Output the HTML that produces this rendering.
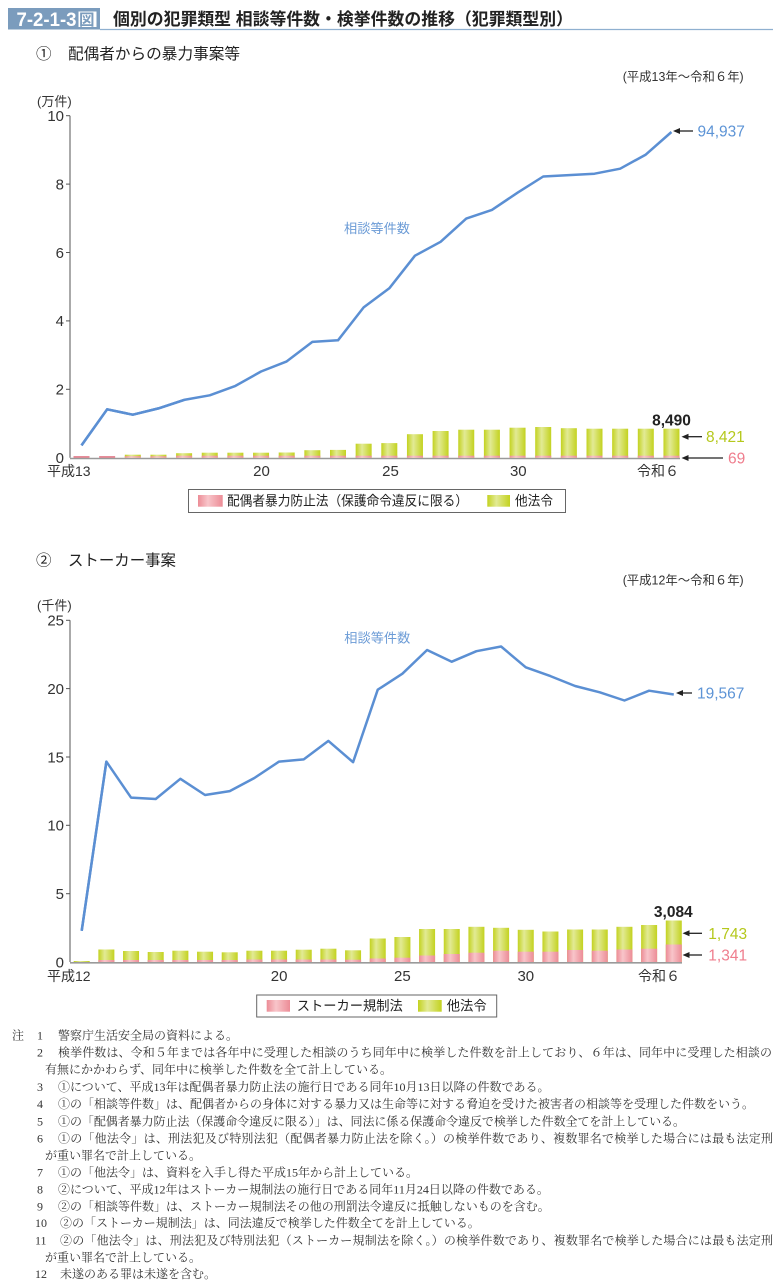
<!DOCTYPE html>
<html><head><meta charset="utf-8">
<style>
html,body{margin:0;padding:0;background:#fff;}
svg{display:block;}
.s{font-family:"Liberation Sans","Noto Sans CJK JP",sans-serif;}
.m{font-family:"Liberation Serif","Noto Serif CJK SC",serif;font-size:12px;fill:#333;}
</style></head>
<body>
<svg width="781" height="1284" viewBox="0 0 781 1284" xmlns="http://www.w3.org/2000/svg">
<defs>
<linearGradient id="gg" x1="0" x2="1" y1="0" y2="0">
<stop offset="0" stop-color="#c3d21f"/><stop offset="0.4" stop-color="#e2ea95"/><stop offset="1" stop-color="#c3d21f"/>
</linearGradient>
<linearGradient id="pg" x1="0" x2="1" y1="0" y2="0">
<stop offset="0" stop-color="#ec8c96"/><stop offset="0.4" stop-color="#f8c5ca"/><stop offset="1" stop-color="#ec8c96"/>
</linearGradient>
</defs>

<!-- Header -->
<rect x="8" y="8" width="92" height="21.5" fill="#7b9cbd"/>
<text x="16.5" y="26" class="s" font-size="19" font-weight="bold" fill="#fff" textLength="60" lengthAdjust="spacingAndGlyphs">7-2-1-3</text>
<rect x="78.5" y="11.5" width="18" height="15.5" fill="#fff"/>
<text x="79" y="25" class="s" font-size="15.5" font-weight="bold" fill="#7b9cbd">図</text>
<line x1="100" y1="29.5" x2="773" y2="29.5" stroke="#8fb0d0" stroke-width="1.2"/>
<text x="113" y="25" class="s" font-size="17" font-weight="bold" fill="#222" textLength="460" lengthAdjust="spacingAndGlyphs">個別の犯罪類型 相談等件数・検挙件数の推移（犯罪類型別）</text>

<!-- Chart 1 titles -->
<text x="36" y="59" class="s" font-size="15.5" fill="#222">①</text>
<text x="68" y="59" class="s" font-size="15.5" fill="#222" textLength="172" lengthAdjust="spacingAndGlyphs">配偶者からの暴力事案等</text>
<text x="622.7" y="81" class="s" font-size="12.5" fill="#333" textLength="121" lengthAdjust="spacingAndGlyphs">(平成13年～令和６年)</text>
<text x="37" y="106" class="s" font-size="13" fill="#333">(万件)</text>

<!-- Chart 1 axes -->
<g stroke="#555" stroke-width="1">
<line x1="70" y1="115.7" x2="70" y2="457.7"/>
<line x1="66" y1="115.7" x2="70" y2="115.7"/>
<line x1="66" y1="184.1" x2="70" y2="184.1"/>
<line x1="66" y1="252.5" x2="70" y2="252.5"/>
<line x1="66" y1="320.9" x2="70" y2="320.9"/>
<line x1="66" y1="389.3" x2="70" y2="389.3"/>
</g>
<g class="s" font-size="15" fill="#333" text-anchor="end">
<text x="64" y="121">10</text>
<text x="64" y="189.4">8</text>
<text x="64" y="257.8">6</text>
<text x="64" y="326.2">4</text>
<text x="64" y="394.6">2</text>
<text x="64" y="463">0</text>
</g>

<!-- Chart 1 bars -->
<g id="bars1"></g>
<line x1="70" y1="458.5" x2="680" y2="458.5" stroke="#9a9a9a" stroke-width="1.6"/>

<!-- Chart 1 line -->
<polyline fill="none" stroke="#5b8fd3" stroke-width="2.5" stroke-linejoin="round" points="81.5,445.4 107.15,409.3 132.8,414.7 158.45,408.4 184.1,399.9 209.75,395.3 235.4,385.9 261.05,371.5 286.7,361.4 312.35,341.9 338,340.3 363.65,307.4 389.3,288.3 414.95,255.7 440.6,241.8 466.25,218.6 491.9,209.9 517.55,192.7 543.2,176.5 568.85,175.1 594.5,173.7 620.15,168.7 645.8,154.6 671.45,132"/>
<text x="344" y="233" class="s" font-size="13" fill="#6b9bd6" textLength="66" lengthAdjust="spacingAndGlyphs">相談等件数</text>

<!-- Chart 1 x labels -->
<g class="s" font-size="15" fill="#333">
<text x="47" y="476" font-size="14">平成13</text>
<text x="261.5" y="476" text-anchor="middle">20</text>
<text x="390.5" y="476" text-anchor="middle">25</text>
<text x="518.3" y="476" text-anchor="middle">30</text>
<text x="637" y="476" font-size="14">令和６</text>
</g>

<!-- Chart 1 annotations -->
<g stroke="#222" stroke-width="1.3">
<line x1="678" y1="131" x2="693" y2="131"/>
<line x1="686" y1="436.7" x2="702" y2="436.7"/>
<line x1="686" y1="458" x2="723" y2="458"/>
</g>
<g fill="#222">
<polygon points="673,131 680,128 680,134"/>
<polygon points="681.5,436.7 688.5,433.7 688.5,439.7"/>
<polygon points="681.5,458 688.5,455 688.5,461"/>
</g>
<text x="697.5" y="136.5" class="s" font-size="15.5" fill="#5d94d6">94,937</text>
<text x="671.5" y="425.5" class="s" font-size="15.5" font-weight="bold" fill="#222" text-anchor="middle">8,490</text>
<text x="706" y="442.2" class="s" font-size="15.5" fill="#b5c81c">8,421</text>
<text x="728" y="463.5" class="s" font-size="15.5" fill="#ef7d8d">69</text>

<!-- Legend 1 -->
<rect x="188.5" y="489.5" width="377" height="23" fill="#fff" stroke="#666" stroke-width="1"/>
<rect x="198" y="495" width="24.7" height="11.7" fill="url(#pg)"/>
<text x="227" y="505.5" class="s" font-size="13.5" fill="#222" textLength="241" lengthAdjust="spacingAndGlyphs">配偶者暴力防止法（保護命令違反に限る）</text>
<rect x="487.3" y="495" width="22.7" height="11.7" fill="url(#gg)"/>
<text x="515" y="505.5" class="s" font-size="13.5" fill="#222" textLength="38" lengthAdjust="spacingAndGlyphs">他法令</text>

<!-- Chart 2 titles -->
<text x="36" y="565.5" class="s" font-size="15.5" fill="#222">②</text>
<text x="68" y="565.5" class="s" font-size="15.5" fill="#222" textLength="108" lengthAdjust="spacingAndGlyphs">ストーカー事案</text>
<text x="622.7" y="584.5" class="s" font-size="12.5" fill="#333" textLength="121" lengthAdjust="spacingAndGlyphs">(平成12年～令和６年)</text>
<text x="37" y="610" class="s" font-size="13" fill="#333">(千件)</text>

<!-- Chart 2 axes -->
<g stroke="#555" stroke-width="1">
<line x1="70" y1="620.3" x2="70" y2="962"/>
<line x1="66" y1="620.3" x2="70" y2="620.3"/>
<line x1="66" y1="688.6" x2="70" y2="688.6"/>
<line x1="66" y1="757" x2="70" y2="757"/>
<line x1="66" y1="825.3" x2="70" y2="825.3"/>
<line x1="66" y1="893.7" x2="70" y2="893.7"/>
</g>
<g class="s" font-size="15" fill="#333" text-anchor="end">
<text x="64" y="625.6">25</text>
<text x="64" y="694">20</text>
<text x="64" y="762.3">15</text>
<text x="64" y="830.6">10</text>
<text x="64" y="899">5</text>
<text x="64" y="967.3">0</text>
</g>

<g id="bars2"></g>
<line x1="70" y1="962.8" x2="682" y2="962.8" stroke="#9a9a9a" stroke-width="1.6"/>

<polyline fill="none" stroke="#5b8fd3" stroke-width="2.5" stroke-linejoin="round" points="81.7,930.8 106.37,761.6 131.04,797.6 155.71,799 180.38,778.8 205.05,795 229.72,791.1 254.39,778 279.06,761.6 303.73,759.4 328.4,740.9 353.07,762.2 377.74,689.7 402.41,673.7 427.08,650 451.75,661.7 476.42,651.2 501.09,646.5 525.76,667.3 550.43,676.1 575.1,686 599.77,692.3 624.44,700.5 649.11,690.7 673.78,694.5"/>
<text x="344.3" y="642.5" class="s" font-size="13" fill="#6b9bd6" textLength="66" lengthAdjust="spacingAndGlyphs">相談等件数</text>

<g class="s" font-size="15" fill="#333">
<text x="47" y="981" font-size="14">平成12</text>
<text x="279.1" y="981" text-anchor="middle">20</text>
<text x="402.4" y="981" text-anchor="middle">25</text>
<text x="525.8" y="981" text-anchor="middle">30</text>
<text x="638" y="981" font-size="14">令和６</text>
</g>

<g stroke="#222" stroke-width="1.3">
<line x1="681" y1="693" x2="692" y2="693"/>
<line x1="687" y1="933.3" x2="702" y2="933.3"/>
<line x1="687" y1="955" x2="702" y2="955"/>
</g>
<g fill="#222">
<polygon points="676,693 683,690 683,696"/>
<polygon points="682.5,933.3 689.5,930.3 689.5,936.3"/>
<polygon points="682.5,955 689.5,952 689.5,958"/>
</g>
<text x="697" y="698.5" class="s" font-size="15.5" fill="#5d94d6">19,567</text>
<text x="673.3" y="917" class="s" font-size="15.5" font-weight="bold" fill="#222" text-anchor="middle">3,084</text>
<text x="708.3" y="938.8" class="s" font-size="15.5" fill="#b5c81c">1,743</text>
<text x="708.3" y="960.5" class="s" font-size="15.5" fill="#ef7d8d">1,341</text>

<!-- Legend 2 -->
<rect x="256.7" y="995" width="240" height="22" fill="#fff" stroke="#666" stroke-width="1"/>
<rect x="266.7" y="1000" width="23.3" height="11.7" fill="url(#pg)"/>
<text x="296.7" y="1010.5" class="s" font-size="13.5" fill="#222" textLength="106" lengthAdjust="spacingAndGlyphs">ストーカー規制法</text>
<rect x="418" y="1000" width="23.7" height="11.7" fill="url(#gg)"/>
<text x="446.7" y="1010.5" class="s" font-size="13.5" fill="#222" textLength="40" lengthAdjust="spacingAndGlyphs">他法令</text>

<!-- Notes -->
<text x="12" y="1039.5" class="m">注</text>
<text x="37" y="1039.5" class="m">1</text><text x="58" y="1039.5" class="m">警察庁生活安全局の資料による。</text>
<text x="37" y="1056.5" class="m">2</text><text x="58" y="1056.5" class="m" textLength="714" lengthAdjust="spacing">検挙件数は、令和５年までは各年中に受理した相談のうち同年中に検挙した件数を計上しており、６年は、同年中に受理した相談の</text>
<text x="45" y="1073.5" class="m">有無にかかわらず、同年中に検挙した件数を全て計上している。</text>
<text x="37" y="1091" class="m">3</text><text x="58" y="1091" class="m">①について、平成13年は配偶者暴力防止法の施行日である同年10月13日以降の件数である。</text>
<text x="37" y="1108" class="m">4</text><text x="58" y="1108" class="m" textLength="696" lengthAdjust="spacing">①の「相談等件数」は、配偶者からの身体に対する暴力又は生命等に対する脅迫を受けた被害者の相談等を受理した件数をいう。</text>
<text x="37" y="1125.5" class="m">5</text><text x="58" y="1125.5" class="m" textLength="627" lengthAdjust="spacing">①の「配偶者暴力防止法（保護命令違反に限る）」は、同法に係る保護命令違反で検挙した件数全てを計上している。</text>
<text x="37" y="1142.5" class="m">6</text><text x="58" y="1142.5" class="m" textLength="715" lengthAdjust="spacing">①の「他法令」は、刑法犯及び特別法犯（配偶者暴力防止法を除く。）の検挙件数であり、複数罪名で検挙した場合には最も法定刑</text>
<text x="45" y="1159.5" class="m">が重い罪名で計上している。</text>
<text x="37" y="1176.5" class="m">7</text><text x="58" y="1176.5" class="m">①の「他法令」は、資料を入手し得た平成15年から計上している。</text>
<text x="37" y="1193.5" class="m">8</text><text x="58" y="1193.5" class="m">②について、平成12年はストーカー規制法の施行日である同年11月24日以降の件数である。</text>
<text x="37" y="1210.5" class="m">9</text><text x="58" y="1210.5" class="m">②の「相談等件数」は、ストーカー規制法その他の刑罰法令違反に抵触しないものを含む。</text>
<text x="35" y="1227" class="m">10</text><text x="60" y="1227" class="m">②の「ストーカー規制法」は、同法違反で検挙した件数全てを計上している。</text>
<text x="35" y="1244.5" class="m">11</text><text x="60" y="1244.5" class="m" textLength="713" lengthAdjust="spacing">②の「他法令」は、刑法犯及び特別法犯（ストーカー規制法を除く。）の検挙件数であり、複数罪名で検挙した場合には最も法定刑</text>
<text x="45" y="1261.5" class="m">が重い罪名で計上している。</text>
<text x="35" y="1278" class="m">12</text><text x="60" y="1278" class="m">未遂のある罪は未遂を含む。</text>

<!-- Bars chart 1 (static) -->
<g>
<rect x="73.5" y="456.2" width="16" height="1.5" fill="#e07080"/>
<rect x="99.15" y="456.2" width="16" height="1.5" fill="#e07080"/>
<rect x="124.8" y="454.7" width="16" height="3" fill="url(#gg)"/><rect x="124.8" y="456.2" width="16" height="1.5" fill="url(#pg)"/>
<rect x="150.45" y="454.7" width="16" height="3" fill="url(#gg)"/><rect x="150.45" y="456.2" width="16" height="1.5" fill="url(#pg)"/>
<rect x="176.1" y="453.2" width="16" height="4.5" fill="url(#gg)"/><rect x="176.1" y="455.7" width="16" height="2" fill="url(#pg)"/>
<rect x="201.75" y="452.7" width="16" height="5" fill="url(#gg)"/><rect x="201.75" y="455.7" width="16" height="2" fill="url(#pg)"/>
<rect x="227.4" y="452.7" width="16" height="5" fill="url(#gg)"/><rect x="227.4" y="455.7" width="16" height="2" fill="url(#pg)"/>
<rect x="253.05" y="452.7" width="16" height="5" fill="url(#gg)"/><rect x="253.05" y="455.7" width="16" height="2" fill="url(#pg)"/>
<rect x="278.7" y="452.5" width="16" height="5.2" fill="url(#gg)"/><rect x="278.7" y="455.7" width="16" height="2" fill="url(#pg)"/>
<rect x="304.35" y="450.2" width="16" height="7.5" fill="url(#gg)"/><rect x="304.35" y="455.7" width="16" height="2" fill="url(#pg)"/>
<rect x="330" y="449.9" width="16" height="7.8" fill="url(#gg)"/><rect x="330" y="455.7" width="16" height="2" fill="url(#pg)"/>
<rect x="355.65" y="443.7" width="16" height="14" fill="url(#gg)"/><rect x="355.65" y="455.7" width="16" height="2" fill="url(#pg)"/>
<rect x="381.3" y="443.1" width="16" height="14.6" fill="url(#gg)"/><rect x="381.3" y="455.7" width="16" height="2" fill="url(#pg)"/>
<rect x="406.95" y="434.2" width="16" height="23.5" fill="url(#gg)"/><rect x="406.95" y="455.7" width="16" height="2" fill="url(#pg)"/>
<rect x="432.6" y="431" width="16" height="26.7" fill="url(#gg)"/><rect x="432.6" y="455.7" width="16" height="2" fill="url(#pg)"/>
<rect x="458.25" y="429.7" width="16" height="28" fill="url(#gg)"/><rect x="458.25" y="455.7" width="16" height="2" fill="url(#pg)"/>
<rect x="483.9" y="429.7" width="16" height="28" fill="url(#gg)"/><rect x="483.9" y="455.7" width="16" height="2" fill="url(#pg)"/>
<rect x="509.55" y="427.7" width="16" height="30" fill="url(#gg)"/><rect x="509.55" y="455.7" width="16" height="2" fill="url(#pg)"/>
<rect x="535.2" y="427" width="16" height="30.7" fill="url(#gg)"/><rect x="535.2" y="455.7" width="16" height="2" fill="url(#pg)"/>
<rect x="560.85" y="428.2" width="16" height="29.5" fill="url(#gg)"/><rect x="560.85" y="455.7" width="16" height="2" fill="url(#pg)"/>
<rect x="586.5" y="428.7" width="16" height="29" fill="url(#gg)"/><rect x="586.5" y="455.7" width="16" height="2" fill="url(#pg)"/>
<rect x="612.15" y="428.7" width="16" height="29" fill="url(#gg)"/><rect x="612.15" y="455.7" width="16" height="2" fill="url(#pg)"/>
<rect x="637.8" y="428.7" width="16" height="29" fill="url(#gg)"/><rect x="637.8" y="455.7" width="16" height="2" fill="url(#pg)"/>
<rect x="663.45" y="428.7" width="16" height="29" fill="url(#gg)"/><rect x="663.45" y="455.7" width="16" height="2" fill="url(#pg)"/>
</g>

<!-- Bars chart 2 (static) -->
<g>
<rect x="73.7" y="961" width="16" height="1" fill="url(#gg)"/>
<rect x="98.37" y="949.5" width="16" height="12.5" fill="url(#gg)"/><rect x="98.37" y="960" width="16" height="2" fill="url(#pg)"/>
<rect x="123.04" y="951" width="16" height="11" fill="url(#gg)"/><rect x="123.04" y="960" width="16" height="2" fill="url(#pg)"/>
<rect x="147.71" y="952" width="16" height="10" fill="url(#gg)"/><rect x="147.71" y="960" width="16" height="2" fill="url(#pg)"/>
<rect x="172.38" y="950.7" width="16" height="11.3" fill="url(#gg)"/><rect x="172.38" y="960" width="16" height="2" fill="url(#pg)"/>
<rect x="197.05" y="951.7" width="16" height="10.3" fill="url(#gg)"/><rect x="197.05" y="960" width="16" height="2" fill="url(#pg)"/>
<rect x="221.72" y="952.3" width="16" height="9.7" fill="url(#gg)"/><rect x="221.72" y="960" width="16" height="2" fill="url(#pg)"/>
<rect x="246.39" y="950.7" width="16" height="11.3" fill="url(#gg)"/><rect x="246.39" y="959.5" width="16" height="2.5" fill="url(#pg)"/>
<rect x="271.06" y="950.7" width="16" height="11.3" fill="url(#gg)"/><rect x="271.06" y="959.5" width="16" height="2.5" fill="url(#pg)"/>
<rect x="295.73" y="949.7" width="16" height="12.3" fill="url(#gg)"/><rect x="295.73" y="959.5" width="16" height="2.5" fill="url(#pg)"/>
<rect x="320.4" y="948.7" width="16" height="13.3" fill="url(#gg)"/><rect x="320.4" y="959.5" width="16" height="2.5" fill="url(#pg)"/>
<rect x="345.07" y="950.3" width="16" height="11.7" fill="url(#gg)"/><rect x="345.07" y="959.7" width="16" height="2.3" fill="url(#pg)"/>
<rect x="369.74" y="938.5" width="16" height="23.5" fill="url(#gg)"/><rect x="369.74" y="958.5" width="16" height="3.5" fill="url(#pg)"/>
<rect x="394.41" y="937" width="16" height="25" fill="url(#gg)"/><rect x="394.41" y="957.7" width="16" height="4.3" fill="url(#pg)"/>
<rect x="419.08" y="929" width="16" height="33" fill="url(#gg)"/><rect x="419.08" y="955.5" width="16" height="6.5" fill="url(#pg)"/>
<rect x="443.75" y="929" width="16" height="33" fill="url(#gg)"/><rect x="443.75" y="954" width="16" height="8" fill="url(#pg)"/>
<rect x="468.42" y="926.8" width="16" height="35.2" fill="url(#gg)"/><rect x="468.42" y="952.7" width="16" height="9.3" fill="url(#pg)"/>
<rect x="493.09" y="927.8" width="16" height="34.2" fill="url(#gg)"/><rect x="493.09" y="950.7" width="16" height="11.3" fill="url(#pg)"/>
<rect x="517.76" y="929.8" width="16" height="32.2" fill="url(#gg)"/><rect x="517.76" y="951.7" width="16" height="10.3" fill="url(#pg)"/>
<rect x="542.43" y="931.5" width="16" height="30.5" fill="url(#gg)"/><rect x="542.43" y="951.7" width="16" height="10.3" fill="url(#pg)"/>
<rect x="567.1" y="929.5" width="16" height="32.5" fill="url(#gg)"/><rect x="567.1" y="950" width="16" height="12" fill="url(#pg)"/>
<rect x="591.77" y="929.5" width="16" height="32.5" fill="url(#gg)"/><rect x="591.77" y="950.7" width="16" height="11.3" fill="url(#pg)"/>
<rect x="616.44" y="926.8" width="16" height="35.2" fill="url(#gg)"/><rect x="616.44" y="949.5" width="16" height="12.5" fill="url(#pg)"/>
<rect x="641.11" y="925" width="16" height="37" fill="url(#gg)"/><rect x="641.11" y="948.7" width="16" height="13.3" fill="url(#pg)"/>
<rect x="665.78" y="920.5" width="16" height="41.5" fill="url(#gg)"/><rect x="665.78" y="944.5" width="16" height="17.5" fill="url(#pg)"/>
</g>
<!-- redraw lines above bars -->
<polyline fill="none" stroke="#5b8fd3" stroke-width="2.5" stroke-linejoin="round" points="81.5,445.4 107.15,409.3 132.8,414.7 158.45,408.4 184.1,399.9"/>
<polyline fill="none" stroke="#5b8fd3" stroke-width="2.5" stroke-linejoin="round" points="81.7,930.8 106.37,761.6"/>
</svg>
</body></html>
